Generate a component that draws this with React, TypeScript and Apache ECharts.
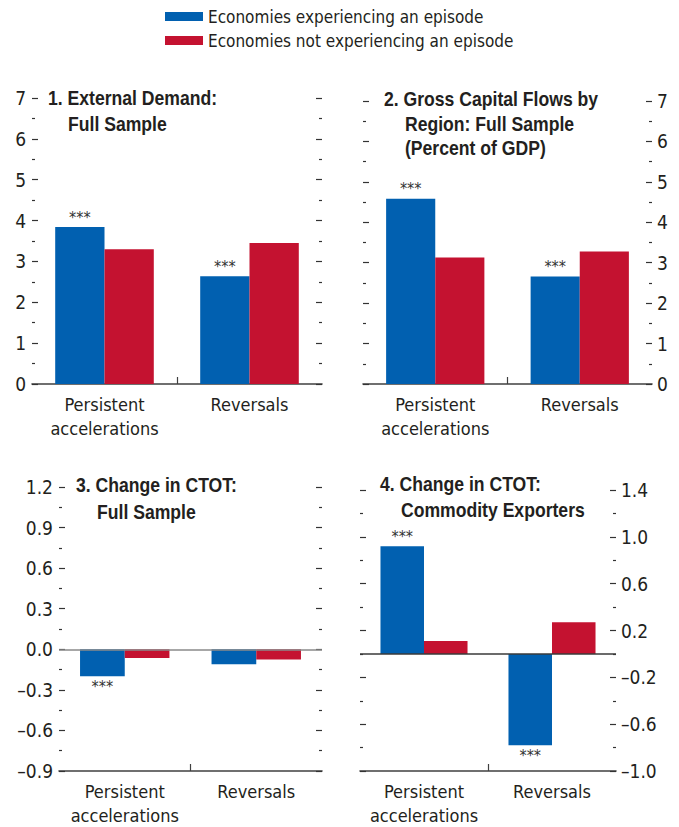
import React, { useEffect, useRef } from "react";
import * as echarts from "echarts";

const categories = ["Persistent\naccelerations", "Reversals"];
const seriesNames = ["Economies experiencing an episode", "Economies not experiencing an episode"];

const p1Episode = [3.84, 2.64];
const p1NoEpisode = [3.3, 3.45];
const p1Sig = ["***", "***"];

const p2Episode = [4.58, 2.66];
const p2NoEpisode = [3.13, 3.28];
const p2Sig = ["***", "***"];

const p3Episode = [-0.2, -0.11];
const p3NoEpisode = [-0.065, -0.075];
const p3Sig = ["***", ""];

const p4Episode = [0.92, -0.78];
const p4NoEpisode = [0.11, 0.27];
const p4Sig = ["***", "***"];

const titles = [
  ["1. External Demand:", "Full Sample"],
  ["2. Gross Capital Flows by", "Region: Full Sample", "(Percent of GDP)"],
  ["3. Change in CTOT:", "Full Sample"],
  ["4. Change in CTOT:", "Commodity Exporters"],
];

const FONT = "'DejaVu Sans Condensed', 'DejaVu Sans', sans-serif";
const TFONT = "'Liberation Sans', Arial, sans-serif";
const TXT = "#231f20";
const BLUE = "#0160b0";
const RED = "#c41230";

const panels = [
  { ep: p1Episode, no: p1NoEpisode, sig: p1Sig, min: 0, max: 7, interval: 1, side: "left", dec: 0, zero: null,
    grid: { left: 32, top: 98, width: 290, height: 286 }, title: { x: 48, x2: 68, y: [98, 124] } },
  { ep: p2Episode, no: p2NoEpisode, sig: p2Sig, min: 0, max: 7, interval: 1, side: "right", dec: 0, zero: null,
    grid: { left: 363, top: 101, width: 289, height: 283 }, title: { x: 384, x2: 405, y: [99, 124, 148] } },
  { ep: p3Episode, no: p3NoEpisode, sig: p3Sig, min: -0.9, max: 1.2, interval: 0.3, side: "left", dec: 1, zero: "#8a8a8a",
    grid: { left: 59, top: 487, width: 263, height: 286 }, title: { x: 76, x2: 97, y: [485, 512] } },
  { ep: p4Episode, no: p4NoEpisode, sig: p4Sig, min: -1.0, max: 1.4, interval: 0.4, side: "right", dec: 1, zero: "#3a3a3a",
    grid: { left: 360, top: 490, width: 256, height: 284 }, title: { x: 380, x2: 401, y: [484, 510] } },
];

export default function App() {
  const ref = useRef<HTMLDivElement>(null);
  useEffect(() => {
    document.body.style.margin = "0";
    const chart = echarts.init(ref.current!, null, { renderer: "svg" });
    const grid: any[] = [];
    const xAxis: any[] = [];
    const yAxis: any[] = [];
    const series: any[] = [];
    const graphic: any[] = [];

    panels.forEach((p, i) => {
      grid.push({ ...p.grid, containLabel: false });
      xAxis.push({
        type: "category", gridIndex: i, data: categories, position: "bottom",
        axisLine: { show: true, onZero: false, lineStyle: { color: "#404040", width: 1.6 } },
        axisTick: { show: false },
        axisLabel: { interval: 0, fontFamily: FONT, fontSize: 18, lineHeight: 24, color: TXT, margin: 8 },
        splitLine: { show: false },
      });
      xAxis.push({
        type: "value", gridIndex: i, min: 0, max: 2, position: "bottom",
        axisLine: { show: false, onZero: false },
        axisTick: { show: true, inside: true, length: 7, customValues: [1], lineStyle: { color: "#404040", width: 1.2 } },
        axisLabel: { show: false },
        splitLine: { show: false },
      });
      const fmt = (v: number) => v.toFixed(p.dec).replace("-", "\u2013");
      const yBase = {
        type: "value", gridIndex: i, min: p.min, max: p.max, interval: p.interval,
        axisLine: { show: false, onZero: false },
        axisTick: { show: true, inside: true, length: 6, lineStyle: { color: "#333", width: 1.2 } },
        minorTick: { show: true, splitNumber: 2, length: 3, lineStyle: { color: "#333", width: 1.2 } },
        splitLine: { show: false },
        minorSplitLine: { show: false },
      };
      const other = p.side === "left" ? "right" : "left";
      yAxis.push({
        ...yBase, position: p.side,
        axisLabel: { show: true, fontFamily: FONT, fontSize: 19, color: TXT, margin: p.side === "left" ? 6 : 5, formatter: fmt },
      });
      yAxis.push({ ...yBase, position: other, axisLabel: { show: false } });

      const mkData = (vals: number[], sig: string[] | null) =>
        vals.map((v, k) => ({
          value: v,
          label: sig && sig[k]
            ? { show: true, formatter: sig[k], position: v >= 0 ? "top" : "bottom", distance: 2,
                fontFamily: FONT, fontSize: 16, color: "#333" }
            : { show: false },
        }));

      const epSeries: any = {
        name: seriesNames[0], type: "bar", xAxisIndex: 2 * i, yAxisIndex: 2 * i,
        data: mkData(p.ep, p.sig), itemStyle: { color: BLUE },
        barGap: "0%", barCategoryGap: "32%",
      };
      if (p.zero) {
        epSeries.markLine = {
          silent: true, symbol: ["none", "none"], label: { show: false },
          lineStyle: { color: p.zero, width: 1.6, type: "solid" },
          data: [{ yAxis: 0 }],
        };
      }
      series.push(epSeries);
      series.push({
        name: seriesNames[1], type: "bar", xAxisIndex: 2 * i, yAxisIndex: 2 * i,
        data: mkData(p.no, null), itemStyle: { color: RED },
        barGap: "0%", barCategoryGap: "32%",
      });

      titles[i].forEach((t, j) => {
        graphic.push({
          type: "text", x: j === 0 ? p.title.x : p.title.x2, y: p.title.y[j], scaleX: 0.88,
          style: {
            text: t, fontFamily: TFONT, fontSize: 20, fontWeight: "bold", fill: TXT,
            textAlign: "left", textVerticalAlign: "middle",
          },
        });
      });
    });

    chart.setOption({
      animation: false,
      backgroundColor: "#ffffff",
      graphic,
      legend: {
        orient: "vertical", left: 165, top: 8, padding: 0, itemWidth: 38, itemHeight: 9, itemGap: 7, icon: "rect",
        data: seriesNames, selectedMode: false,
        textStyle: { fontFamily: FONT, fontSize: 17, color: TXT, padding: [0, 0, 0, 0] },
        itemStyle: { borderWidth: 0 },
      },
      grid, xAxis, yAxis, series,
    });
    return () => chart.dispose();
  }, []);
  return <div ref={ref} style={{ width: 679, height: 827 }} />;
}
